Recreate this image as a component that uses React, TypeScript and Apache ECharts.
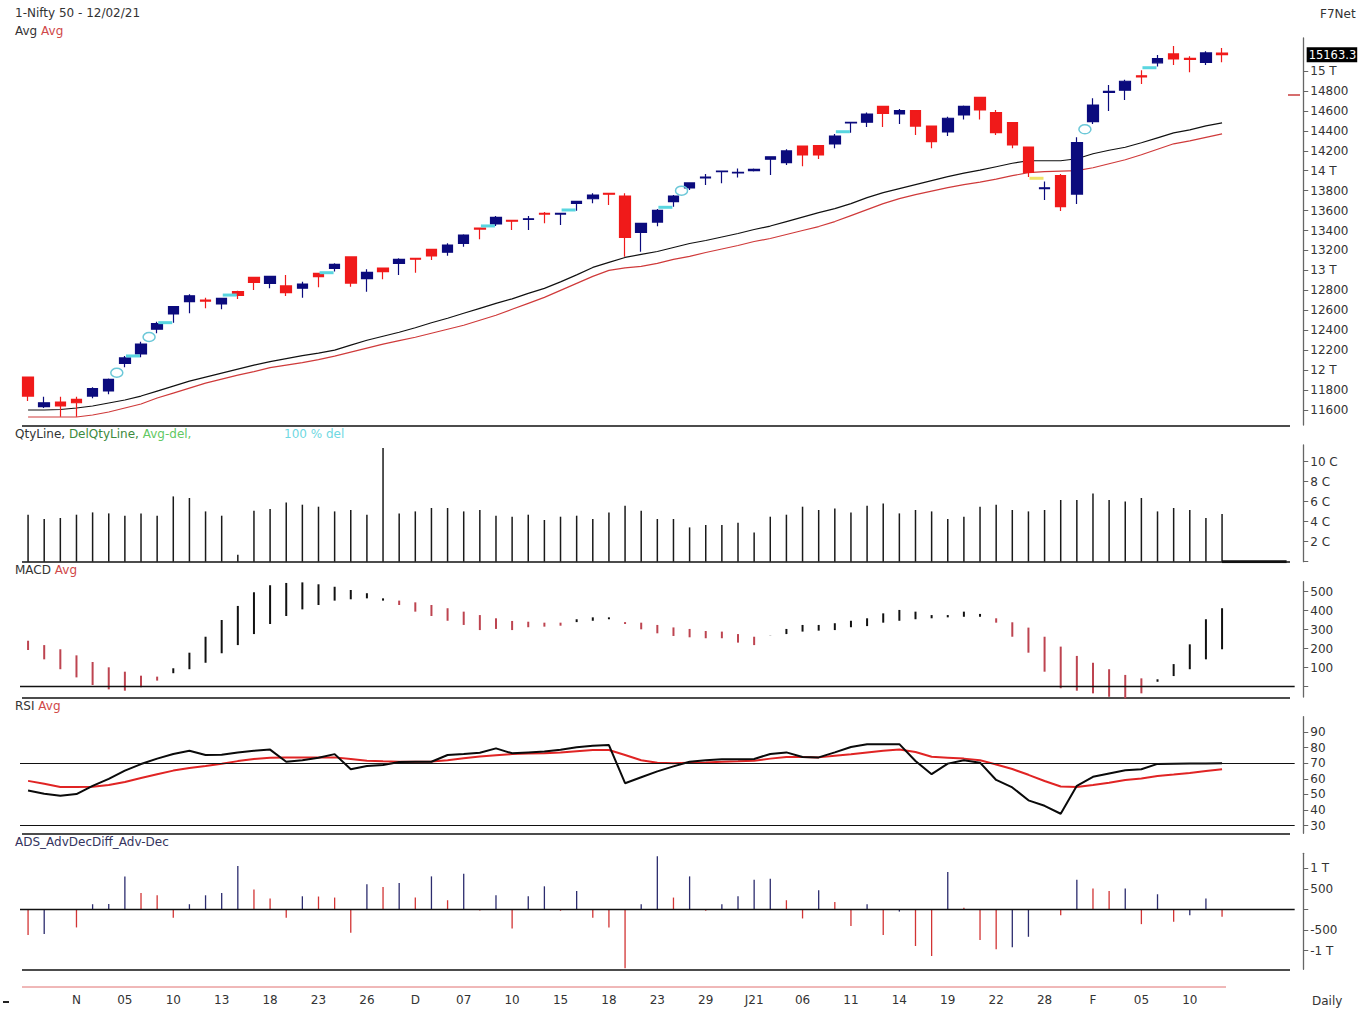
import React, { useEffect, useRef } from "react";
import * as echarts from "echarts";

// ---------- DATA ----------
const dayTicks = [
  "", "", "",
  "N", "", "", "05", "", "", "10", "", "", "13", "", "", "18", "", "", "23", "", "", "26", "", "",
  "D", "", "", "07", "", "", "10", "", "", "15", "", "", "18", "", "", "23", "", "", "29", "", "",
  "J21", "", "", "06", "", "", "11", "", "", "14", "", "", "19", "", "", "22", "", "", "28", "", "",
  "F", "", "", "05", "", "", "10", "", "",
];

// [open, high, low, close]
const ohlc = [
  [11931, 11931, 11690, 11740], [11633, 11733, 11620, 11673], [11680, 11733, 11533, 11640], [11707, 11733, 11533, 11673],
  [11740, 11828, 11717, 11814], [11791, 11917, 11757, 11907], [12068, 12142, 12028, 12122], [12162, 12285, 12128, 12262],
  [12410, 12486, 12369, 12467], [12563, 12640, 12476, 12636], [12686, 12760, 12570, 12746], [12703, 12726, 12620, 12693],
  [12663, 12726, 12610, 12720], [12787, 12797, 12713, 12750], [12931, 12937, 12804, 12881], [12871, 12945, 12821, 12941],
  [12844, 12954, 12743, 12777], [12821, 12887, 12727, 12864], [12971, 12974, 12831, 12937], [13021, 13071, 12988, 13061],
  [13135, 13138, 12837, 12873], [12917, 13011, 12787, 12981], [13024, 13027, 12911, 12988], [13071, 13121, 12954, 13111],
  [13121, 13125, 12977, 13113], [13211, 13214, 13105, 13145], [13182, 13272, 13148, 13255], [13272, 13362, 13238, 13355],
  [13424, 13430, 13312, 13415], [13466, 13546, 13446, 13532], [13503, 13506, 13405, 13494], [13512, 13546, 13405, 13518],
  [13573, 13586, 13473, 13565], [13565, 13575, 13455, 13573], [13672, 13695, 13599, 13692], [13719, 13773, 13673, 13756],
  [13773, 13776, 13656, 13765], [13746, 13773, 13138, 13332], [13382, 13479, 13188, 13472], [13485, 13616, 13442, 13602],
  [13689, 13756, 13639, 13746], [13827, 13883, 13807, 13877], [13928, 13967, 13857, 13936], [13990, 13997, 13874, 13995],
  [13978, 14022, 13932, 13984], [14000, 14021, 13991, 14013], [14115, 14145, 13957, 14140], [14081, 14214, 14057, 14198],
  [14248, 14251, 14044, 14158], [14253, 14256, 14118, 14158], [14268, 14368, 14225, 14348], [14480, 14488, 14380, 14486],
  [14486, 14585, 14439, 14569], [14646, 14649, 14439, 14576], [14569, 14620, 14469, 14602], [14602, 14605, 14358, 14448],
  [14448, 14451, 14225, 14291], [14388, 14542, 14348, 14526], [14559, 14653, 14513, 14646], [14736, 14743, 14513, 14609],
  [14582, 14609, 14358, 14382], [14482, 14485, 14225, 14258], [14238, 14241, 13937, 13984], [13820, 13891, 13707, 13828],
  [13951, 13967, 13596, 13640], [13766, 14335, 13666, 14281], [14492, 14726, 14469, 14659], [14785, 14860, 14600, 14795],
  [14807, 14913, 14710, 14897], [14952, 15007, 14870, 14942], [15082, 15161, 15044, 15125], [15171, 15251, 15061, 15121],
  [15126, 15148, 14987, 15116], [15087, 15198, 15061, 15181], [15180, 15231, 15087, 15163.3],
];

const avgBlack = [
  11600, 11600, 11605, 11620, 11640, 11670, 11700, 11740, 11790, 11840,
  11890, 11930, 11970, 12010, 12050, 12085, 12115, 12145, 12170, 12200,
  12250, 12300, 12340, 12380, 12425, 12475, 12520, 12570, 12620, 12670,
  12715, 12770, 12820, 12885, 12955, 13030, 13080, 13130, 13160, 13190,
  13230, 13270, 13300, 13335, 13370, 13410, 13445, 13490, 13535, 13580,
  13620, 13670, 13730, 13780, 13820, 13860, 13900, 13940, 13975, 14005,
  14040, 14075, 14100, 14100, 14100, 14120, 14170, 14205, 14235, 14280,
  14330, 14380, 14410, 14450, 14480,
];

const avgRed = [
  11530, 11530, 11530, 11530, 11550, 11580, 11620, 11660, 11720, 11770,
  11820, 11870, 11910, 11950, 11985, 12025, 12050, 12075, 12105, 12140,
  12180, 12220, 12260, 12295, 12330, 12370, 12410, 12450, 12500, 12550,
  12610, 12670, 12730, 12800, 12870, 12940, 13000, 13025, 13040, 13070,
  13110, 13140, 13180, 13215, 13250, 13290, 13320, 13360, 13400, 13440,
  13490, 13550, 13610, 13670, 13720, 13760, 13795, 13830, 13860, 13885,
  13915, 13950, 13980, 13990, 13995, 14000, 14030, 14070, 14110, 14160,
  14215, 14270, 14300, 14335, 14370,
];

// volume in crore
const volumeCr = [
  4.7, 4.27, 4.37, 4.7, 4.93, 4.83, 4.6, 4.83, 4.6, 6.53,
  6.37, 5.03, 4.6, 0.7, 5.1, 5.27, 5.93, 5.7, 5.5, 5.03,
  5.17, 4.7, 11.37, 4.83, 5.03, 5.37, 5.37, 5.03, 5.17, 4.6,
  4.5, 4.7, 4.17, 4.5, 4.6, 4.27, 4.93, 5.6, 5.1, 4.27,
  4.27, 3.43, 3.67, 3.67, 3.9, 2.93, 4.5, 4.7, 5.5, 5.17,
  5.33, 4.93, 5.6, 5.83, 4.83, 5.17, 5.03, 4.27, 4.5, 5.5,
  5.7, 5.17, 5.03, 5.17, 6.17, 6.17, 6.83, 6.17, 6.03, 6.37,
  5.03, 5.37, 5.17, 4.37, 4.77,
];

const macdLine = [
  193, 144, 92, 49, 9, -14, -21, -3, 32, 97,
  179, 263, 351, 425, 497, 534, 546, 549, 539, 526,
  509, 492, 465, 430, 395, 372, 347, 325, 298, 304,
  298, 313, 316, 321, 355, 365, 365, 330, 302, 281,
  267, 260, 255, 255, 232, 219, 271, 304, 325, 325,
  334, 347, 360, 386, 404, 395, 377, 377, 395, 383,
  337, 263, 179, 79, -8, -21, -35, -53, -61, -35,
  39, 119, 223, 355, 413,
];

const macdAvg = [
  242, 219, 197, 165, 130, 102, 79, 58, 53, 71,
  92, 126, 176, 219, 277, 330, 372, 407, 430, 453,
  460, 465, 453, 453, 444, 430, 413, 395, 377, 360,
  346, 342, 337, 337, 340, 347, 355, 340, 337, 325,
  312, 304, 293, 290, 277, 263, 270, 277, 290, 295,
  298, 313, 319, 337, 347, 355, 360, 365, 368, 368,
  360, 339, 311, 263, 211, 162, 126, 92, 62, 44,
  26, 56, 92, 144, 197,
];

const rsiLine = [
  52.5, 50.5, 49.2, 50.2, 55.5, 60, 65.3, 69.5, 73, 76,
  78, 75.3, 75.5, 77, 78, 78.8, 71, 72, 73.5, 75.9,
  66.2, 68.3, 68.9, 70.8, 71, 71, 75.3, 76, 76.8, 79.6,
  76.4, 77, 77.6, 78.7, 80.3, 81.2, 81.7, 57.2, 61, 64.8,
  68, 71, 72, 72.6, 72.6, 72.8, 76, 77, 74, 73.8,
  77, 80.5, 82.3, 82.3, 82.3, 71.5, 63, 69.8, 72, 70.4,
  59.3, 54.5, 46.2, 42.7, 37.6, 55.5, 61.3, 63.5, 65.5, 66.2,
  69.6, 69.7, 69.8, 69.9, 70,
];

const rsiAvg = [
  58.7, 56.8, 54.8, 54.7, 55, 56, 58, 60.5, 63, 65.3,
  67, 68.2, 69.7, 71.4, 72.8, 73.5, 73.8, 73.8, 73.8, 73.8,
  72.8, 71.7, 71.3, 71, 71, 71.1, 72, 73.2, 74.3, 75.2,
  75.9, 76.3, 76.5, 76.9, 77.8, 78.6, 78.5, 75.3, 72, 70.3,
  70.1, 70.4, 70.5, 71, 71.3, 71.7, 73, 74.1, 74, 73.8,
  74.8, 75.8, 76.9, 78, 78.9, 77.3, 74.2, 73.6, 73, 72,
  69.2, 66.3, 62.6, 58.6, 55.1, 54.7, 56, 57.5, 59.3, 60.2,
  61.9, 62.8, 63.8, 65, 66.2,
];

const adsDiff = [
  -621, -597, 0, -435, 128, 135, 804, 401, 345, -203,
  128, 345, 401, 1053, 483, 266, -203, 321, 315, 290,
  -565, 611, 546, 643, 290, 804, 225, 870, -25, 345,
  -459, 321, 563, -30, 450, -203, -435, -1425, 128, 1295,
  290, 804, -30, 128, 321, 724, 748, 225, -217, 467,
  184, -403, 128, -621, -50, -886, -1128, 909, 40, -741,
  -966, -918, -662, 0, -138, 724, 507, 450, 507, -355,
  370, -299, -138, 266, -178,
];

// gap markers: [candle index (gap before it), price, kind 0=ellipse 1=cyan dash 2=yellow dash]
const gapMarks = [
  [6, 11974, 0], [7, 12142, 1], [8, 12332, 0], [9, 12476, 1], [13, 12753, 1],
  [19, 12977, 1], [29, 13446, 1], [34, 13606, 1], [40, 13633, 1], [41, 13800, 0],
  [51, 14391, 1], [63, 13924, 2], [66, 14415, 0], [70, 15033, 1],
];

const priceTicks = [11600, 11800, 12000, 12200, 12400, 12600, 12800, 13000, 13200, 13400, 13600, 13800, 14000, 14200, 14400, 14600, 14800, 15000];
const volTicks = [0, 2, 4, 6, 8, 10];
const macdTicks = [0, 100, 200, 300, 400, 500];
const rsiTicks = [30, 40, 50, 60, 70, 80, 90];
const adsTicks = [-1000, -500, 0, 500, 1000];
const rsiLevels = [70, 30];

// ---------- LAYOUT ----------
const SLOT = 16.135;
const SLOTS = 79;
const GRID_LEFT = 20;
const GRID_W = SLOTS * SLOT;
const AXIS_OFFSET = 8.6;
const FONT = "DejaVu Sans";
const FS = 12;
const TXT = "#333";
const UP = "#0b0b7d";
const DOWN = "#f01a1a";
const AVG_RED = "#cf3a3a";

const panels = [
  { top: 38, bottom: 425, min: 11449.6, max: 15331 },
  { top: 445, bottom: 561.7, min: 0, max: 11.67 },
  { top: 581.7, bottom: 697, min: -54.2, max: 552.6 },
  { top: 716.7, bottom: 833.3, min: 25.03, max: 99.93 },
  { top: 853.3, bottom: 969.3, min: -1451, max: 1364 },
];

const slotIds = Array.from({ length: SLOTS }, (_, i) => String(i));

function yAxis(k: number, ticks: number[], fmt: (v: number) => string) {
  const p = panels[k];
  return {
    type: "value",
    gridIndex: k,
    position: "right",
    offset: AXIS_OFFSET,
    min: p.min,
    max: p.max,
    splitLine: { show: false },
    axisLine: { show: true, onZero: false, lineStyle: { color: "#666", width: 1.3 } },
    axisTick: { show: true, inside: false, length: 5, customValues: ticks, lineStyle: { color: "#666", width: 1 } },
    axisLabel: {
      show: true,
      customValues: ticks.filter((v) => fmt(v) !== ""),
      formatter: fmt,
      margin: 7,
      color: TXT,
      fontFamily: FONT,
      fontSize: FS,
    },
  };
}

function text(x: number, y: number, rich: [string, string][], align = "left") {
  const styles: any = {};
  const parts = rich.map(([t, c], i) => {
    styles["s" + i] = { fill: c, color: c, fontFamily: FONT, fontSize: FS };
    return `{s${i}|${t}}`;
  });
  return {
    type: "text",
    x,
    y,
    silent: true,
    style: {
      text: parts.join(""),
      rich: styles,
      font: `${FS}px "${FONT}"`,
      fill: TXT,
      align,
      textAlign: align,
      verticalAlign: "middle",
      textVerticalAlign: "middle",
    },
  };
}

function hline(x1: number, x2: number, y: number, color = "#111", width = 1.3) {
  return { type: "line", silent: true, shape: { x1, y1: y, x2, y2: y }, style: { stroke: color, lineWidth: width } };
}

export default function App() {
  const ref = useRef<HTMLDivElement>(null);

  useEffect(() => {
    if (!ref.current) return;
    const chart = echarts.init(ref.current, undefined, { renderer: "svg" });
    const lastClose = ohlc[ohlc.length - 1][3];

    const grids = panels.map((p) => ({
      left: GRID_LEFT,
      width: GRID_W,
      top: p.top,
      height: p.bottom - p.top,
      containLabel: false,
    }));

    const xAxes = panels.map((_, k) => ({
      type: "category",
      gridIndex: k,
      data: slotIds,
      boundaryGap: true,
      show: k === 4,
      axisLine: { show: false },
      axisTick: { show: false },
      splitLine: { show: false },
      axisLabel: {
        show: k === 4,
        interval: 0,
        margin: 25,
        color: TXT,
        fontFamily: FONT,
        fontSize: FS,
        formatter: (_v: string, i: number) => dayTicks[i] ?? "",
      },
    }));

    const yAxes = [
      yAxis(0, priceTicks, (v) => (v % 1000 === 0 ? `${v / 1000} T` : String(v))),
      yAxis(1, volTicks, (v) => (v === 0 ? "" : `${v} C`)),
      yAxis(2, macdTicks, (v) => (v === 0 ? "" : String(v))),
      yAxis(3, rsiTicks, (v) => String(v)),
      yAxis(4, adsTicks, (v) => (v === 0 ? "" : Math.abs(v) === 1000 ? `${v < 0 ? "-" : ""}1 T` : String(v))),
    ];

    const hiddenMark = { symbol: ["none", "none"], silent: true, label: { show: false }, animation: false };

    const series: any[] = [
      {
        type: "candlestick",
        xAxisIndex: 0,
        yAxisIndex: 0,
        barWidth: 11,
        data: ohlc.map(([o, h, l, c]) => [o, c, l, h]),
        itemStyle: { color: UP, color0: DOWN, borderColor: UP, borderColor0: DOWN, borderWidth: 1.2 },
        markLine: {
          symbol: ["none", "none"],
          silent: true,
          animation: false,
          lineStyle: { color: "rgba(0,0,0,0)", width: 0, type: "solid" },
          data: [{ yAxis: lastClose }],
          label: {
            show: true,
            position: "end",
            distance: 12,
            formatter: () => lastClose.toFixed(1),
            color: "#fff",
            backgroundColor: "#000",
            padding: [2, 1, 1, 2],
            fontFamily: FONT,
            fontSize: 11.5,
            fontWeight: "normal",
            opacity: 1,
          },
        },
        z: 3,
      },
      {
        type: "line",
        xAxisIndex: 0,
        yAxisIndex: 0,
        data: avgBlack,
        symbol: "none",
        lineStyle: { color: "#111", width: 1.2 },
        z: 2,
      },
      {
        type: "line",
        xAxisIndex: 0,
        yAxisIndex: 0,
        data: avgRed,
        symbol: "none",
        lineStyle: { color: AVG_RED, width: 1.2 },
        z: 2,
      },
      {
        type: "custom",
        xAxisIndex: 0,
        yAxisIndex: 0,
        data: gapMarks,
        encode: { x: 0, y: 1 },
        z: 4,
        renderItem: (_params: any, api: any) => {
          const i = api.value(0);
          const v = api.value(1);
          const kind = api.value(2);
          const c = api.coord([i, v]);
          const half = api.size([1, 0])[0] / 2;
          const x = c[0] - half;
          const y = c[1];
          if (kind === 0) {
            return {
              type: "ellipse",
              shape: { cx: x, cy: y, rx: 6, ry: 4.5 },
              style: { fill: "none", stroke: "#6cc8d8", lineWidth: 1.5 },
            };
          }
          return {
            type: "line",
            shape: { x1: x - 7, y1: y, x2: x + 7, y2: y },
            style: { stroke: kind === 1 ? "#5ad6e0" : "#efe46a", lineWidth: 3 },
          };
        },
      },
      {
        type: "bar",
        xAxisIndex: 1,
        yAxisIndex: 1,
        data: volumeCr,
        barWidth: 1.5,
        itemStyle: { color: "#1a1a1a" },
      },
      {
        type: "line",
        xAxisIndex: 1,
        yAxisIndex: 1,
        data: slotIds.map((_, i) => (i >= volumeCr.length - 1 ? 0 : null)),
        symbol: "none",
        lineStyle: { color: "#111", width: 3 },
      },
      {
        type: "custom",
        xAxisIndex: 2,
        yAxisIndex: 2,
        data: macdLine.map((m, i) => [i, m, macdAvg[i]]),
        encode: { x: 0, y: [1, 2] },
        renderItem: (_params: any, api: any) => {
          const i = api.value(0);
          const m = api.value(1);
          const s = api.value(2);
          const p1 = api.coord([i, m]);
          const p2 = api.coord([i, s]);
          return {
            type: "line",
            shape: { x1: p1[0], y1: p1[1], x2: p2[0], y2: p2[1] },
            style: { stroke: m >= s ? "#111" : "#bd4450", lineWidth: 2 },
          };
        },
        markLine: { ...hiddenMark, data: [{ yAxis: 0 }], lineStyle: { color: "#111", width: 1.3, type: "solid" } },
      },
      {
        type: "line",
        xAxisIndex: 3,
        yAxisIndex: 3,
        data: rsiAvg,
        symbol: "none",
        lineStyle: { color: "#e02424", width: 2 },
        markLine: {
          ...hiddenMark,
          data: rsiLevels.map((v) => ({ yAxis: v })),
          lineStyle: { color: "#111", width: 1.1, type: "solid" },
        },
        z: 2,
      },
      {
        type: "line",
        xAxisIndex: 3,
        yAxisIndex: 3,
        data: rsiLine,
        symbol: "none",
        lineStyle: { color: "#0a0a0a", width: 2 },
        z: 3,
      },
      {
        type: "bar",
        xAxisIndex: 4,
        yAxisIndex: 4,
        data: adsDiff,
        barWidth: 1.3,
        itemStyle: {
          color: (p: any) => {
            const i = p.dataIndex;
            const rising = i === 0 ? adsDiff[i] >= 0 : adsDiff[i] >= adsDiff[i - 1];
            return rising ? "#2c2c6e" : "#d23434";
          },
        },
        markLine: { ...hiddenMark, data: [{ yAxis: 0 }], lineStyle: { color: "#111", width: 1.3, type: "solid" } },
      },
    ];

    const graphic: any[] = [
      hline(22, 1290, 426),
      hline(22, 1290, 562),
      hline(22, 1290, 698),
      hline(22, 1290, 834),
      hline(22, 1290, 970),
      hline(22, 1226, 987, "#e07070", 1),
      hline(1288, 1300, 95, "#c83c3c", 1.5),
      hline(3, 9, 1002, "#222", 2),
      text(15, 13, [["1-Nifty 50 - 12/02/21", TXT]]),
      text(15, 31, [["Avg ", TXT], ["Avg", "#d04848"]]),
      text(1320, 14, [["F7Net", TXT]]),
      text(15, 434, [["QtyLine, ", TXT], ["DelQtyLine, ", "#3d8a3d"], ["Avg-del,", "#62c862"]]),
      text(284, 434, [["100 % del", "#6fd8e2"]]),
      text(15, 570, [["MACD ", TXT], ["Avg", "#d04848"]]),
      text(15, 706, [["RSI ", TXT], ["Avg", "#d04848"]]),
      text(15, 842, [["ADS_AdvDecDiff_Adv-Dec", "#34345e"]]),
      text(1312, 1001, [["Daily", TXT]]),
    ];

    chart.setOption({
      animation: false,
      backgroundColor: "#fff",
      textStyle: { fontFamily: FONT },
      grid: grids,
      xAxis: xAxes,
      yAxis: yAxes,
      series,
      graphic,
    });

    return () => chart.dispose();
  }, []);

  return (
    <div
      ref={ref}
      style={{ position: "absolute", left: 0, top: 0, width: 1359, height: 1009, background: "#fff" }}
    />
  );
}
